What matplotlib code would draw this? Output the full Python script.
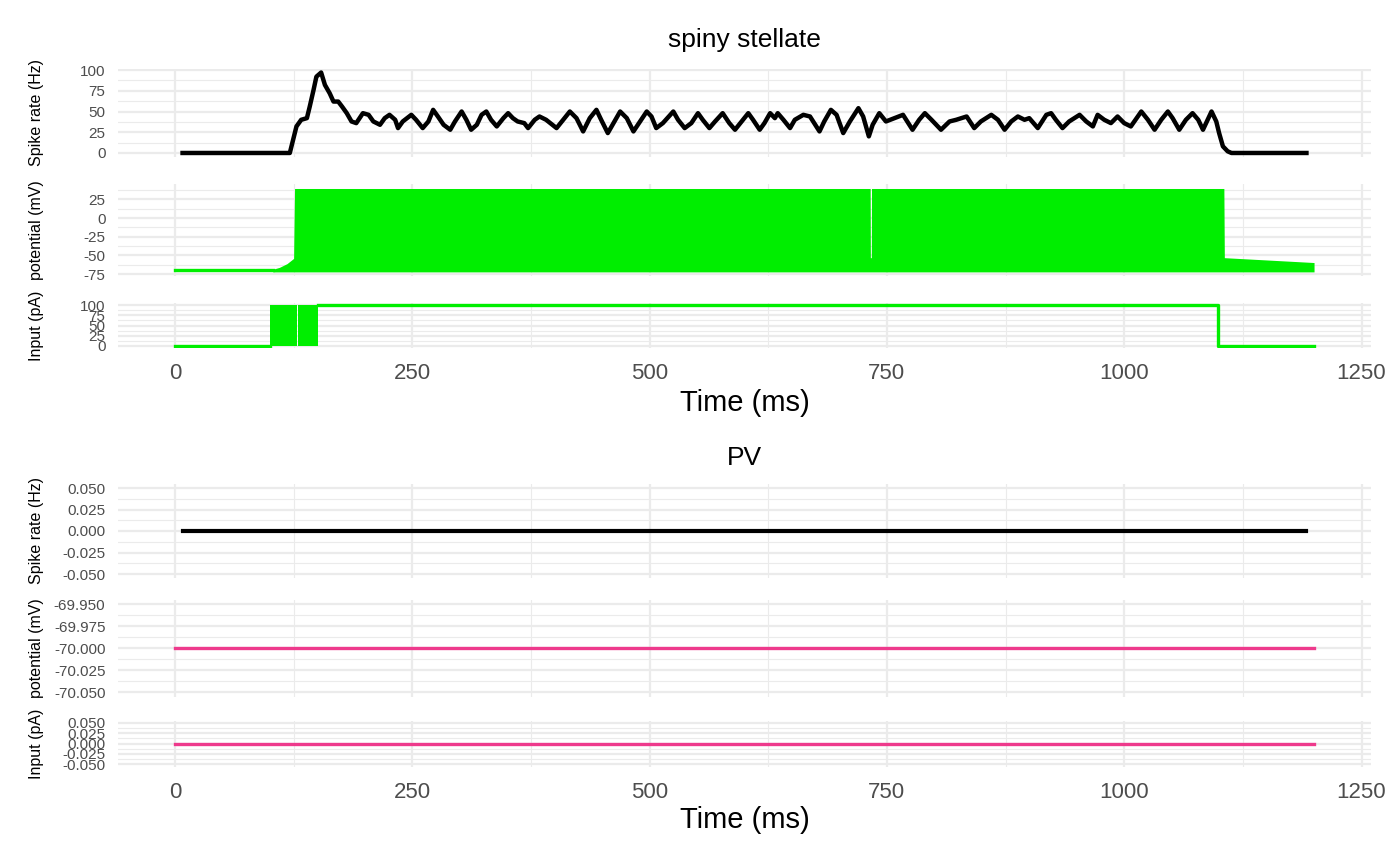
import matplotlib
matplotlib.use("Agg")
import matplotlib.pyplot as plt

plt.rcParams['font.family'] = ['Liberation Sans', 'DejaVu Sans']
plt.rcParams['axes.unicode_minus'] = False

# ---- spiny stellate data ----
ss_rate_time = [8, 121, 128, 133, 139, 142, 146, 149, 154, 158, 163, 167, 172, 176, 181, 186, 191,
                198, 204, 209, 216, 221, 226, 232, 235, 240, 249, 254, 261, 267, 272, 277, 283, 290,
                295, 302, 307, 312, 318, 323, 328, 333, 339, 346, 351, 356, 361, 368, 372, 379, 384,
                391, 402, 409, 416, 423, 430, 437, 444, 449, 456, 462, 469, 476, 483, 490, 497, 502,
                507, 514, 525, 530, 537, 544, 551, 556, 563, 569, 577, 584, 590, 597, 604, 609, 616,
                621, 627, 632, 635, 641, 648, 653, 662, 669, 679, 684, 691, 697, 704, 711, 720, 725,
                731, 735, 742, 749, 758, 767, 777, 784, 790, 797, 807, 816, 823, 834, 842, 849, 860,
                867, 874, 881, 888, 895, 900, 909, 918, 923, 928, 935, 942, 953, 960, 967, 972, 979,
                986, 993, 1000, 1007, 1018, 1025, 1032, 1039, 1046, 1051, 1058, 1065, 1072, 1078,
                1083, 1092, 1097, 1100, 1104, 1109, 1113, 1192]
ss_rate_hz = [0, 0, 32, 40, 42, 56, 76, 92, 97, 82, 72, 62, 62, 56, 48, 38, 36,
              48, 46, 38, 34, 42, 46, 40, 30, 38, 46, 40, 30, 38, 52, 44, 34, 28,
              38, 50, 40, 28, 34, 46, 50, 40, 32, 42, 48, 42, 38, 36, 30, 40, 44,
              40, 30, 40, 50, 42, 26, 42, 52, 40, 24, 36, 50, 42, 26, 38, 50, 44,
              30, 36, 50, 40, 30, 36, 48, 40, 30, 38, 48, 36, 28, 38, 48, 40, 28,
              36, 48, 42, 48, 40, 30, 40, 46, 44, 26, 38, 52, 46, 24, 38, 54, 44,
              20, 34, 48, 38, 42, 46, 28, 40, 48, 40, 28, 38, 40, 44, 30, 38, 46,
              40, 28, 38, 44, 40, 42, 30, 46, 48, 40, 30, 38, 46, 38, 32, 46, 40,
              36, 44, 36, 32, 50, 40, 28, 40, 50, 42, 28, 40, 48, 40,
              28, 50, 38, 24, 8, 2, 0, 0]

# membrane potential: resting line, then envelope of the fast spiking trace
ss_v_rest_time = [0, 103]
ss_v_rest = [-70, -70]
ss_v_time = [103, 110, 118, 125, 126, 732.4, 732.6, 733.6, 733.8, 1105, 1105.5, 1200]
ss_v_upper = [-68.5, -66, -61, -54, 39.5, 39.5, -53, -53, 39.5, 39.5, -53, -59.5]
ss_v_lower = [-72, -72, -72, -72, -72, -72, -72, -72, -72, -72, -72, -72]

# injected current
ss_i_time = [0, 100]
ss_i_value = [0, 0]
ss_i_burst = [(100, 128.5), (129.5, 151)]
ss_i_burst_top = 100
ss_i_on_time = [151, 1099, 1099, 1200]
ss_i_on_value = [100, 100, 0, 0]

# ---- PV data ----
pv_rate_time = [8, 1192]
pv_rate_hz = [0, 0]
pv_v_time = [0, 1200]
pv_v = [-70, -70]
pv_i_time = [0, 1200]
pv_i = [0, 0]

x_major = [0, 250, 500, 750, 1000, 1250]
x_minor = [125, 375, 625, 875, 1125]
x_labels = ['0', '250', '500', '750', '1000', '1250']

ss_rate_ticks = [0, 25, 50, 75, 100]
ss_rate_labels = ['0', '25', '50', '75', '100']
ss_v_ticks = [-75, -50, -25, 0, 25]
ss_v_labels = ['-75', '-50', '-25', '0', '25']
ss_i_ticks = [0, 25, 50, 75, 100]
ss_i_labels = ['0', '25', '50', '75', '100']
pv_zero_ticks = [-0.05, -0.025, 0, 0.025, 0.05]
pv_zero_labels = ['-0.050', '-0.025', '0.000', '0.025', '0.050']
pv_v_ticks = [-70.05, -70.025, -70.0, -69.975, -69.95]
pv_v_labels = ['-70.050', '-70.025', '-70.000', '-69.975', '-69.950']

GREEN = '#00EE00'
PINK = '#EE3A8C'
GRID = '#EBEBEB'
TICK = '#4D4D4D'

W, H = 1400, 865
fig = plt.figure(figsize=(14, 8.65), dpi=100)
LEFT, RIGHT = 118, 1371


def panel(top, bottom):
    return fig.add_axes([LEFT / W, 1 - bottom / H, (RIGHT - LEFT) / W, (bottom - top) / H])


def style(ax, yticks, ylabels, ylim, show_x):
    ax.set_xlim(-60, 1260)
    ax.set_ylim(*ylim)
    ax.set_xticks(x_major)
    ax.set_xticks(x_minor, minor=True)
    ax.set_yticks(yticks)
    ax.set_yticklabels(ylabels)
    minors = [(a + b) / 2 for a, b in zip(yticks[:-1], yticks[1:])]
    step = yticks[1] - yticks[0]
    for m in (yticks[0] - step / 2, yticks[-1] + step / 2):
        if ylim[0] <= m <= ylim[1]:
            minors.append(m)
    ax.set_yticks(minors, minor=True)
    ax.grid(which='major', color=GRID, lw=1.6, zorder=0)
    ax.grid(which='minor', color=GRID, lw=0.8, zorder=0)
    ax.set_axisbelow(True)
    for s in ax.spines.values():
        s.set_visible(False)
    ax.tick_params(which='both', length=0)
    ax.tick_params(axis='y', labelsize=11, labelcolor=TICK, pad=9)
    if show_x:
        ax.set_xticklabels(x_labels)
        ax.tick_params(axis='x', labelsize=16, labelcolor=TICK, pad=11)
    else:
        ax.tick_params(axis='x', labelbottom=False)


def ytitle(text, top, bottom):
    fig.text(37 / W, 1 - (top + bottom) / 2 / H, text, rotation=90, ha='center', va='center',
             fontsize=11.5, color='black')


# ---------------- spiny stellate ----------------
g1 = [(68.5, 157), (184, 276), (303, 348)]
ax = panel(*g1[0])
ax.plot(ss_rate_time, ss_rate_hz, color='black', lw=3.2, solid_joinstyle='round')
style(ax, ss_rate_ticks, ss_rate_labels, (-4.85, 101.85), False)
ytitle('Spike rate (Hz)', *g1[0])

ax = panel(*g1[1])
ax.plot(ss_v_rest_time, ss_v_rest, color=GREEN, lw=2.4)
ax.fill_between(ss_v_time, ss_v_lower, ss_v_upper, color=GREEN, lw=0)
style(ax, ss_v_ticks, ss_v_labels, (-77.5, 45.5), False)
ytitle('potential (mV)', *g1[1])

ax = panel(*g1[2])
ax.plot(ss_i_time, ss_i_value, color=GREEN, lw=2.4)
for a, b in ss_i_burst:
    ax.fill_between([a, b], [0, 0], [ss_i_burst_top] * 2, color=GREEN, lw=0)
ax.plot(ss_i_on_time, ss_i_on_value, color=GREEN, lw=2.4)
style(ax, ss_i_ticks, ss_i_labels, (-5, 105), True)
ytitle('Input (pA)', *g1[2])

fig.text(744.5 / W, 1 - 40 / H, 'spiny stellate', ha='center', va='center', fontsize=19)
fig.text(744.5 / W, 1 - 403 / H, 'Time (ms)', ha='center', va='center', fontsize=21)

# ---------------- PV ----------------
g2 = [(483.7, 578.3), (600, 696.5), (720.5, 766.5)]
ax = panel(*g2[0])
ax.plot(pv_rate_time, pv_rate_hz, color='black', lw=3.0)
style(ax, pv_zero_ticks, pv_zero_labels, (-0.055, 0.055), False)
ytitle('Spike rate (Hz)', *g2[0])

ax = panel(*g2[1])
ax.plot(pv_v_time, pv_v, color=PINK, lw=2.4)
style(ax, pv_v_ticks, pv_v_labels, (-70.055, -69.945), False)
ytitle('potential (mV)', *g2[1])

ax = panel(*g2[2])
ax.plot(pv_i_time, pv_i, color=PINK, lw=2.4)
style(ax, pv_zero_ticks, pv_zero_labels, (-0.055, 0.055), True)
ytitle('Input (pA)', *g2[2])

fig.text(744.5 / W, 1 - 458 / H, 'PV', ha='center', va='center', fontsize=19)
fig.text(744.5 / W, 1 - 820 / H, 'Time (ms)', ha='center', va='center', fontsize=21)

fig.savefig('out.png', dpi=100)
